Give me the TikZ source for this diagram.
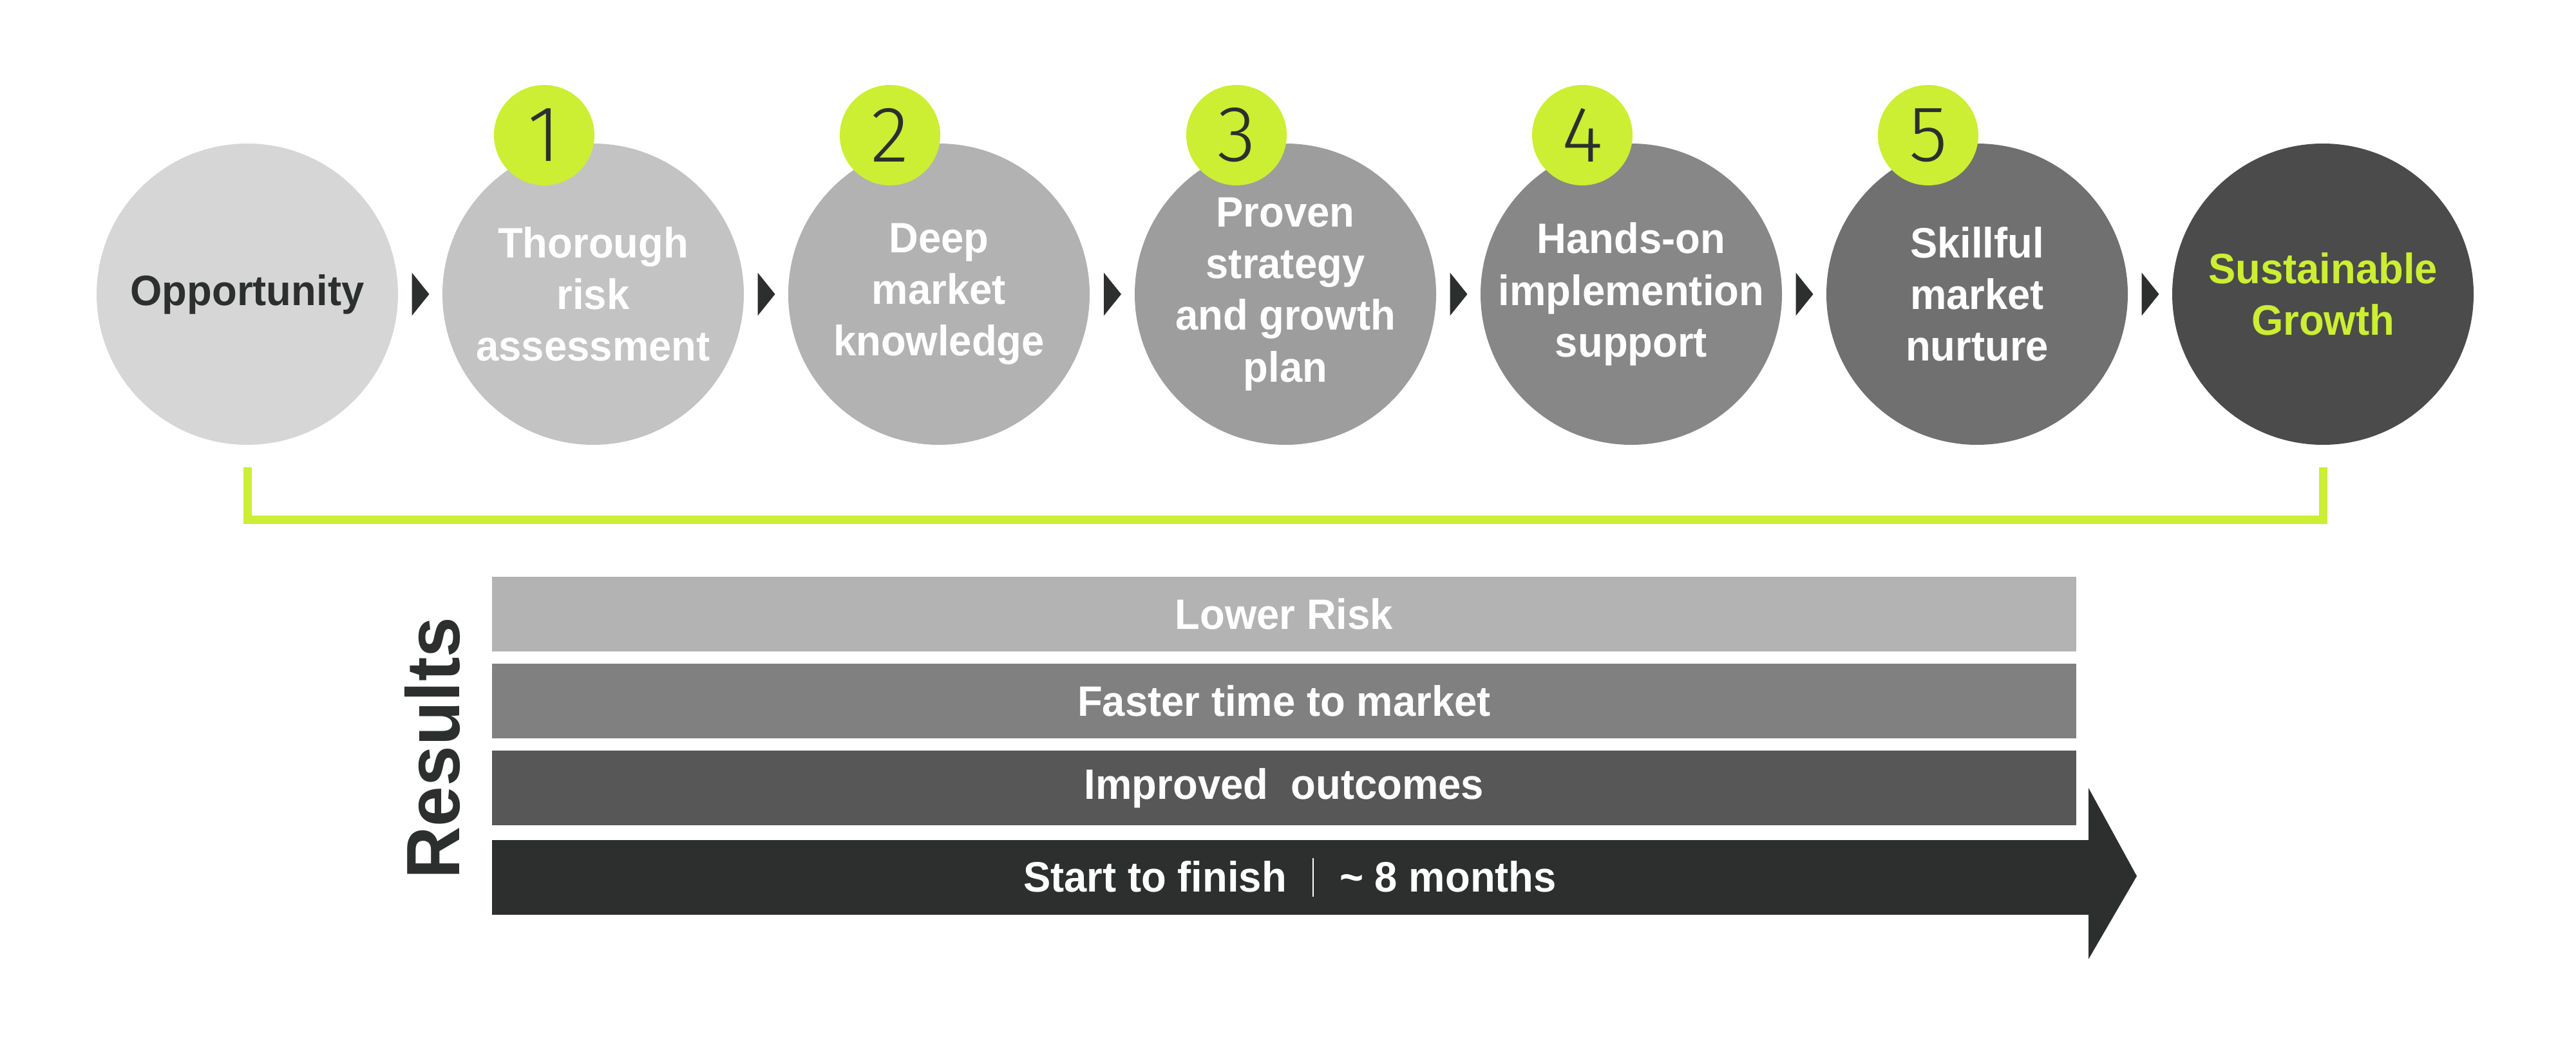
\documentclass[tikz,border=0pt]{standalone}
\usepackage{fontspec}
\setmainfont{Liberation Sans}[FakeStretch=0.96]
\newfontfamily\numfont{Fira Sans Light}
\usetikzlibrary{calc}
\definecolor{lime}{RGB}{204,238,51}
\definecolor{ink}{RGB}{45,47,46}
\definecolor{greyA}{RGB}{214,214,214}
\definecolor{greyB}{RGB}{195,195,195}
\definecolor{greyC}{RGB}{178,178,178}
\definecolor{greyD}{RGB}{157,157,157}
\definecolor{greyE}{RGB}{135,135,135}
\definecolor{greyF}{RGB}{112,112,112}
\definecolor{greyG}{RGB}{75,75,75}
\definecolor{barA}{RGB}{179,179,179}
\definecolor{barB}{RGB}{128,128,128}
\definecolor{barC}{RGB}{87,87,87}
\tikzset{
	stage/.style={circle, minimum size=4.68cm, inner sep=0pt, align=center, text=white,
		font=\fontsize{18.8}{22.8}\selectfont\bfseries},
	badge/.style={circle, fill=lime, minimum size=1.56cm, inner sep=0pt, text=ink,
		font=\fontsize{35}{35}\selectfont\numfont},
	resultbar/.style={rectangle, minimum width=24.6cm, minimum height=1.16cm, inner sep=0pt, text=white,
		font=\fontsize{18.8}{22.8}\selectfont\bfseries},
	bracket/.style={lime, line width=0.13cm}
}
\def\pointer(#1)(#2){\fill[ink] ($(#1)!0.5!(#2)+(-0.13,0.335)$) -- ++(0.27,-0.335) -- ++(-0.27,-0.335) -- cycle;}

\begin{document}
\begin{tikzpicture}
			%%%%% START %%%%%
			\useasboundingbox (0, 0) rectangle (40, 16.41);
			
			\node[stage, fill=greyA, text=ink] (opp) at (3.84, 11.84) {Opportunity};
			\node[stage, fill=greyB] (risk) at (9.21, 11.84) {Thorough\\risk\\assessment};
			\node[stage, fill=greyC] (deep) at (14.58, 11.84) {Deep\\market\\knowledge};
			\node[stage, fill=greyD] (plan) at (19.96, 11.84) {Proven\\strategy\\and growth\\plan};
			\node[stage, fill=greyE] (hands) at (25.33, 11.84) {Hands-on\\implemention\\support};
			\node[stage, fill=greyF] (nurture) at (30.70, 11.84) {Skillful\\market\\nurture};
			\node[stage, fill=greyG, text=lime] (growth) at (36.07, 11.84) {Sustainable\\Growth};
			
			\node[badge] (one) at ($(risk)+(-0.76, 2.47)$) {1};
			\node[badge] (two) at ($(deep)+(-0.76, 2.47)$) {2};
			\node[badge] (three) at ($(plan)+(-0.76, 2.47)$) {3};
			\node[badge] (four) at ($(hands)+(-0.76, 2.47)$) {4};
			\node[badge] (five) at ($(nurture)+(-0.76, 2.47)$) {5};
			
			\pointer(opp)(risk)
			\pointer(risk)(deep)
			\pointer(deep)(plan)
			\pointer(plan)(hands)
			\pointer(hands)(nurture)
			\pointer(nurture)(growth)
			
			\draw[bracket] ([yshift=-3.4mm]opp.south) -- ++(0, -0.82) -| ([yshift=-3.4mm]growth.south);
			
			
			\node[rotate=90, text=ink, font=\fontsize{33.4}{33.4}\selectfont\bfseries] (results) at (6.72, 4.79) {Results};
			
			\node[resultbar, fill=barA] (lower) at (19.94, 6.87) {Lower Risk};
			\node[resultbar, fill=barB] (faster) at (19.94, 5.52) {Faster time to market};
			\node[resultbar, fill=barC] (improved) at (19.94, 4.17) {Improved\ \ outcomes};
			
			\fill[ink] (7.64, 2.20) -- (32.43, 2.20) -- (32.43, 1.51) -- (33.18, 2.80) -- (32.43, 4.17) -- (32.43, 3.36) -- (7.64, 3.36) -- cycle;
			\node[resultbar] (finish) at (20.03, 2.78) {Start to finish\hspace{0.4cm}\rule[-0.08cm]{0.025cm}{0.6cm}\hspace{0.4cm}\textasciitilde\ 8 months};
			
			%%%%% END %%%%%
		\end{tikzpicture}
\end{document}
